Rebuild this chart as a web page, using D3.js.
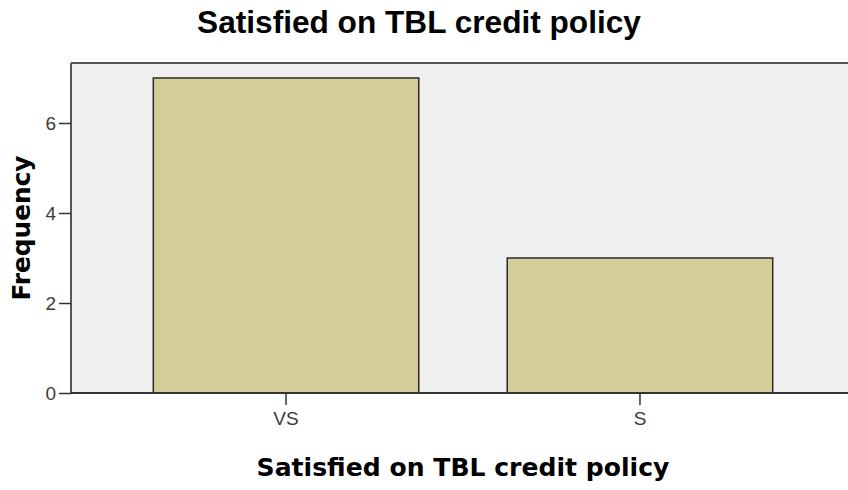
<!DOCTYPE html>
<html><head><meta charset="utf-8">
<script src="https://cdn.jsdelivr.net/npm/d3@7"></script>
<style>body{margin:0;background:#fff}</style>
</head><body>
<svg id="c" width="848" height="490"></svg>
<script>
const categories = ["VS", "S"];
const frequencies = [7, 3];
const yTicks = [0, 2, 4, 6];
const chartTitle = "Satisfied on TBL credit policy";
const xTitle = "Satisfied on TBL credit policy";
const yTitle = "Frequency";

const svg = d3.select("#c");
const plot = {left: 71, top: 63, bottom: 393, right: 855};

const x = d3.scaleBand().domain(categories).range([plot.left, plot.right])
  .paddingInner(0.25).paddingOuter(0.2325);
const y = d3.scaleLinear().domain([0, 7.333]).range([plot.bottom, plot.top]);

svg.append("rect").attr("x", plot.left).attr("y", plot.top)
  .attr("width", 848 - plot.left + 5).attr("height", plot.bottom - plot.top)
  .attr("fill", "#f0f0f0");

svg.selectAll("rect.bar").data(frequencies).join("rect").attr("class", "bar")
  .attr("x", (d, i) => x(categories[i]))
  .attr("y", d => y(d))
  .attr("width", x.bandwidth())
  .attr("height", d => y(0) - y(d))
  .attr("fill", "#d3ce97").attr("stroke", "#2b2b2b").attr("stroke-width", 1.5);

svg.append("line").attr("x1", plot.left).attr("x2", 848).attr("y1", plot.top).attr("y2", plot.top)
  .attr("stroke", "#555").attr("stroke-width", 2);
svg.append("line").attr("x1", plot.left).attr("x2", plot.left).attr("y1", plot.top).attr("y2", plot.bottom)
  .attr("stroke", "#555").attr("stroke-width", 2);
svg.append("line").attr("x1", plot.left).attr("x2", 848).attr("y1", plot.bottom).attr("y2", plot.bottom)
  .attr("stroke", "#333").attr("stroke-width", 2);

const yAxis = svg.append("g").attr("transform", `translate(${plot.left},0)`)
  .call(d3.axisLeft(y).tickValues(yTicks).tickSize(12).tickPadding(3).tickFormat(d3.format("d")));
yAxis.select(".domain").remove();
yAxis.selectAll("line").attr("stroke", "#333").attr("stroke-width", 1.5);
yAxis.selectAll("text").attr("font-family", "Liberation Sans, Arial, sans-serif")
  .attr("font-size", 19).attr("fill", "#3a3a3a");

const xAxis = svg.append("g").attr("transform", `translate(0,${plot.bottom})`)
  .call(d3.axisBottom(x).tickSize(12).tickPadding(7));
xAxis.select(".domain").remove();
xAxis.selectAll("line").attr("stroke", "#333").attr("stroke-width", 1.5);
xAxis.selectAll("text").attr("font-family", "Liberation Sans, Arial, sans-serif")
  .attr("font-size", 19).attr("fill", "#3a3a3a");

function fitText(sel, target) {
  const w = sel.node().getComputedTextLength();
  const fs = parseFloat(sel.attr("font-size"));
  sel.attr("font-size", fs * target / w);
}

const t = svg.append("text").attr("x", 419).attr("y", 33).attr("text-anchor", "middle")
  .attr("font-family", "Liberation Sans, Arial, sans-serif").attr("font-weight", "bold")
  .attr("font-size", 22).attr("fill", "#000").text(chartTitle);
fitText(t, 444);

const xt = svg.append("text").attr("x", 463).attr("y", 476).attr("text-anchor", "middle")
  .attr("font-family", "DejaVu Sans, Verdana, sans-serif").attr("font-weight", "bold")
  .attr("font-size", 19).attr("fill", "#000").text(xTitle);
fitText(xt, 413);

const yt = svg.append("text").attr("transform", "translate(30,228) rotate(-90)")
  .attr("text-anchor", "middle")
  .attr("font-family", "DejaVu Sans, Verdana, sans-serif").attr("font-weight", "bold")
  .attr("font-size", 19).attr("fill", "#000").text(yTitle);
fitText(yt, 145);
</script>
</body></html>
